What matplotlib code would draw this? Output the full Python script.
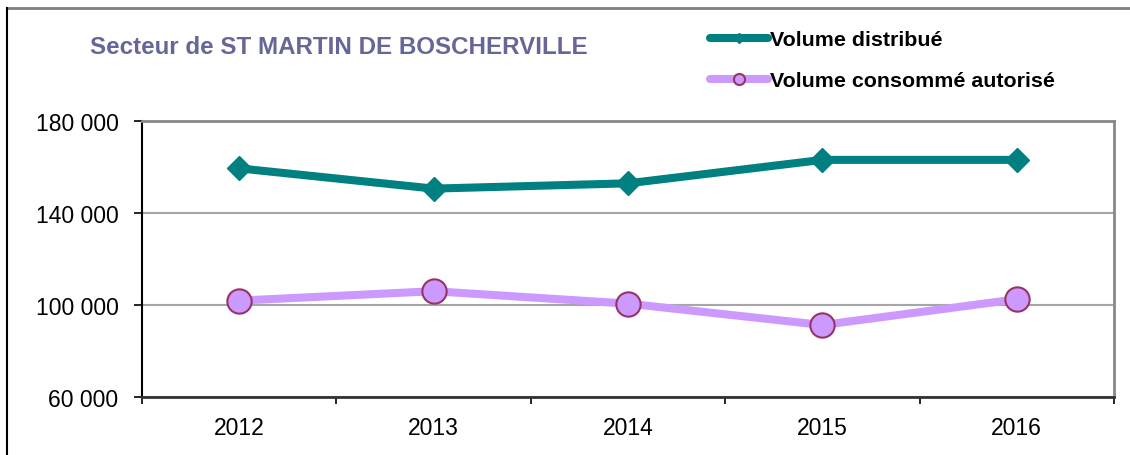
import matplotlib
matplotlib.use("Agg")
import matplotlib.pyplot as plt
from matplotlib.lines import Line2D
from matplotlib.ticker import FuncFormatter, FixedLocator

plt.rcParams['font.family'] = ['Liberation Sans', 'DejaVu Sans']

# volumes annuels (m3)
years = ["2012", "2013", "2014", "2015", "2016"]
vol_distribue = [159400, 150600, 152900, 163100, 163100]
vol_consomme = [101900, 106000, 100600, 91300, 102500]

titre = "Secteur de ST MARTIN DE BOSCHERVILLE"
lbl_distribue = "Volume distribué"
lbl_consomme = "Volume consommé autorisé"

teal = "#008080"
lilas = "#cc99ff"
bordeaux = "#993366"

fig = plt.figure(figsize=(11.3, 4.56), dpi=100)
W, H = 1130, 456
ax = fig.add_axes([142 / W, (H - 398) / H, (1114 - 142) / W, (398 - 122) / H])

x = list(range(len(years)))
ax.plot(x, vol_distribue, color=teal, lw=5.8, marker="D", ms=12.5,
        mfc=teal, mec=teal, zorder=3, solid_joinstyle="miter")
ax.plot(x, vol_consomme, color=lilas, lw=5.8, marker="o", ms=17.5,
        mfc=lilas, mec=bordeaux, mew=1.5, zorder=3)

ax.set_xlim(-0.5, len(years) - 0.5)
ax.set_ylim(60000, 180000)
ax.set_yticks([60000, 100000, 140000, 180000])
ax.yaxis.set_major_formatter(FuncFormatter(lambda v, p: f"{int(v):,}".replace(",", " ")))
ax.set_xticks(x)
ax.set_xticklabels(years)
ax.xaxis.set_minor_locator(FixedLocator([i - 0.5 for i in range(len(years) + 1)]))

ax.tick_params(axis="x", which="major", length=0, pad=14, labelsize=16.5)
ax.tick_params(axis="x", which="minor", length=5, width=1.2, direction="out", color="black")
ax.tick_params(axis="y", length=6, width=1.2, pad=11, labelsize=16.5, color="black")

ax.grid(axis="y", color="#a6a6a6", lw=1.5)
ax.set_axisbelow(True)
for side in ["top", "right"]:
    ax.spines[side].set_color("#888888")
    ax.spines[side].set_linewidth(2)
ax.spines["left"].set_color("black")
ax.spines["left"].set_linewidth(1.5)
ax.spines["bottom"].set_color("#333333")
ax.spines["bottom"].set_linewidth(2)

fig.text(90 / W, 1 - 48 / H, titre, fontsize=17.4, fontweight="bold",
         color="#666699", va="center", ha="left")

handles = [
    Line2D([], [], color=teal, lw=5.8, marker="D", ms=5, mfc=teal, mec=teal,
           solid_capstyle="round"),
    Line2D([], [], color=lilas, lw=5.8, marker="o", ms=8, mfc=lilas, mec=bordeaux,
           mew=1.5, solid_capstyle="round"),
]
fig.legend(handles, [lbl_distribue, lbl_consomme], loc="upper left",
           bbox_to_anchor=(710 / W, 1 - 31 / H), frameon=False,
           prop={"weight": "bold", "size": 15.4}, handlelength=2.7,
           handletextpad=0.1, labelspacing=1.05, borderpad=0, borderaxespad=0)

# cadre de la figure
fig.add_artist(Line2D([7 / W, 1], [1 - 9 / H, 1 - 9 / H], transform=fig.transFigure,
                      color="#808080", lw=2))
fig.add_artist(Line2D([7 / W, 7 / W], [0, 1 - 9 / H], transform=fig.transFigure,
                      color="black", lw=1.5))

fig.savefig("out.png", dpi=100)
